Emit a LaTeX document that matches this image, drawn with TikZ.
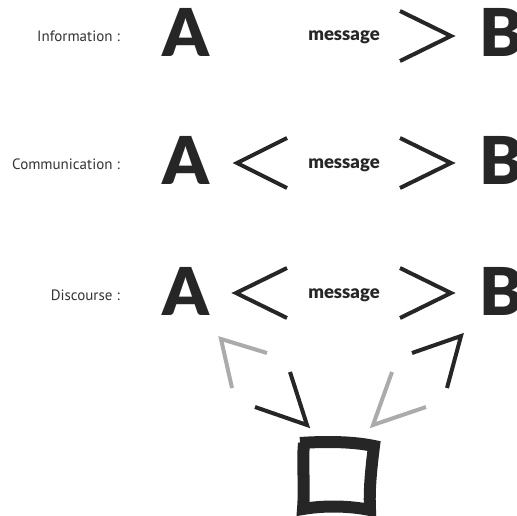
\documentclass[tikz,border=0pt]{standalone}
\usepackage{fontspec}
\setmainfont{PT Sans}
\newfontfamily\heavyfont{Lato Black}
\definecolor{ink}{HTML}{262626}
\definecolor{labelgray}{HTML}{333333}
\definecolor{palegray}{HTML}{ABABAB}
\def\chevron[#1](#2)(#3)(#4){\draw[#1] (#2) -- (#3) -- (#4);}

\begin{document}
\begin{tikzpicture}[x=1pt, y=-1pt,
		rowlabel/.style={anchor=base east, inner sep=0, text=labelgray, font=\fontsize{15}{15}\selectfont},
		bigletter/.style={anchor=base west, inner sep=0, text=ink, font=\heavyfont\fontsize{66}{66}\selectfont},
		msg/.style={anchor=base, inner sep=0, text=ink, font=\heavyfont\fontsize{18.5}{18.5}\selectfont},
		chev/.style={line width=4pt, draw=ink, miter limit=10},
		palechev/.style={chev, draw=palegray}]
		%%%%% START %%%%%
		\useasboundingbox (0, 0) rectangle (517, 516);
		
		% information
		\node[rowlabel] (labInfo) at (120, 42) {Information :};
		\node[bigletter] (aInfo) at (162, 57) {A};
		\node[msg] (msgInfo) at (344, 41) {message};
		\chevron[chev](400, 11)(451, 36)(400, 61)
		\node[bigletter] (bInfo) at (479, 57) {B};
		
		% communication
		\node[rowlabel] (labComm) at (120, 170) {Communication :};
		\node[bigletter] (aComm) at (162, 185) {A};
		\chevron[chev](287, 138)(237, 163)(287, 188)
		\node[msg] (msgComm) at (344, 168) {message};
		\chevron[chev](400, 138)(451, 163)(400, 188)
		\node[bigletter] (bComm) at (479, 185) {B};
		
		% discourse
		\node[rowlabel] (labDisc) at (120, 300) {Discourse :};
		\node[bigletter] (aDisc) at (162, 315) {A};
		\chevron[chev](287, 268)(236, 293)(287, 318)
		\node[msg] (msgDisc) at (344, 298) {message};
		\chevron[chev](400, 268)(451, 293)(400, 318)
		\node[bigletter] (bDisc) at (479, 315) {B};
		
		\chevron[palechev](267, 353)(221, 339)(232, 388)
		\chevron[chev](290, 372)(307, 425)(255, 407)
		\chevron[chev](412, 353)(461, 336)(447, 388)
		\chevron[palechev](392, 372)(373, 425)(426, 407)
		
		% the sketched square
		\draw[ink, line width=12pt, line join=miter]
			(300, 443) .. controls (330, 441) and (355, 442) .. (374, 446)
			.. controls (371, 470) and (369, 490) .. (370, 510)
			.. controls (345, 505) and (320, 506) .. (303, 509)
			.. controls (305, 485) and (302, 465) .. (304, 443);
		
		%%%%% END %%%%%
	\end{tikzpicture}
\end{document}
